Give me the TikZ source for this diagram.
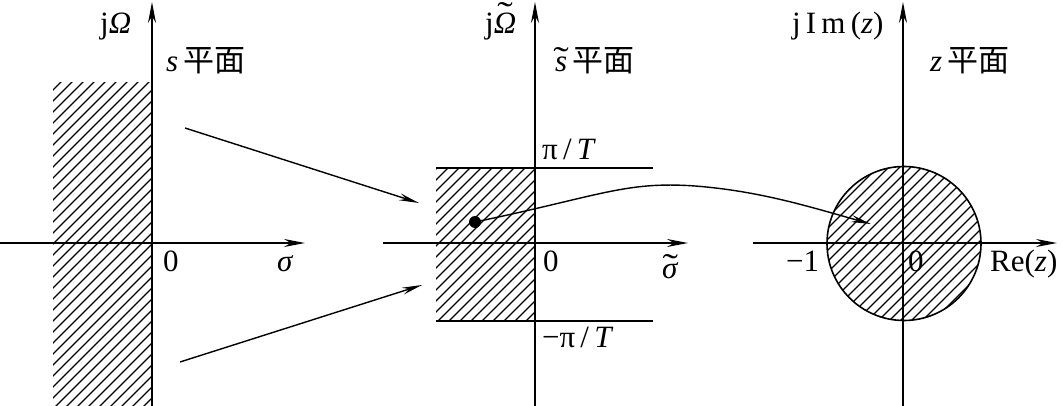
\documentclass[tikz,border=0pt]{standalone}
\usepackage{fontspec}
\setmainfont{Liberation Serif}
\newfontfamily\cjk{Noto Sans CJK SC}
\usetikzlibrary{arrows.meta}
\newcommand{\tld}[2]{\ooalign{#2\cr\hidewidth\raisebox{#1}{\scalebox{1.5}[1.1]{\char"02DC}}\hidewidth\cr}}
\begin{document}
\begin{tikzpicture}[x=1pt,y=-1pt,
  font=\fontsize{31}{34}\selectfont,
  axis/.style={line width=1.7pt,-{Stealth[length=21pt,width=8pt]}},
  bound/.style={line width=1.7pt},
  hatch/.style={line width=1.1pt},
  map/.style={line width=1.4pt,-{Stealth[length=20pt,width=7pt]}},
  lbl/.style={inner sep=0pt,anchor=base west}]
\useasboundingbox (0,0) rectangle (1063,406);

% ---------- hatching (one family of 45-degree lines, clipped per region) ----------
\begin{scope}
  \clip (53,83) rectangle (152,406);
  \foreach \c in {0,11,...,1450} \draw[hatch] (0,\c) -- ++(1100,-1100);
\end{scope}
\begin{scope}
  \clip (436,168) rectangle (535,321);
  \foreach \c in {0,11,...,1450} \draw[hatch] (0,\c) -- ++(1100,-1100);
\end{scope}
\begin{scope}
  \clip (904,243.5) circle (77);
  \foreach \c in {0,11,...,1450} \draw[hatch] (0,\c) -- ++(1100,-1100);
\end{scope}

% ---------- panel 1: s plane ----------
\coordinate (p1l) at (0,243);   \coordinate (p1r) at (305,243);
\coordinate (p1b) at (152,406); \coordinate (p1t) at (152,2);
\draw[axis] (p1l) -- (p1r);
\draw[axis] (p1b) -- (p1t);
\node[lbl] (jO1) at (100,34) {j\textit{Ω}};
\node[lbl] (s1) at (166,72) {\textit{s}\,{\cjk 平面}};
\node[lbl] (o1) at (163,272) {0};
\node[lbl] (sg1) at (277,271) {\textit{σ}};

% ---------- panel 2: s~ plane ----------
\coordinate (p2l) at (383,243); \coordinate (p2r) at (688,243);
\coordinate (p2b) at (535,406); \coordinate (p2t) at (535,2);
\draw[axis] (p2l) -- (p2r);
\draw[axis] (p2b) -- (p2t);
\coordinate (tl) at (436,168); \coordinate (tr) at (653,168);
\coordinate (bl) at (436,321); \coordinate (br) at (653,321);
\draw[bound] (tl) -- (tr);
\draw[bound] (bl) -- (br);
\node[lbl] (jO2) at (485,34) {j\tld{0.28em}{\textit{Ω}}};
\node[lbl] (s2) at (555,72) {\tld{0.05em}{\textit{s}}\,{\cjk 平面}};
\node[lbl] (pT) at (542,160) {π\,/\,\textit{T}};
\node[lbl] (mpT) at (542,347) {−π\,/\,\textit{T}};
\node[lbl] (o2) at (543,272) {0};
\node[lbl] (sg2) at (662,279) {\tld{0.05em}{\textit{σ}}};

% ---------- panel 3: z plane ----------
\node[draw,line width=1.6pt,circle,minimum size=154pt,inner sep=0pt] (uc) at (904,243.5) {};
\coordinate (p3l) at (753,243); \coordinate (p3r) at (1057,243);
\coordinate (p3b) at (903,406); \coordinate (p3t) at (903,2);
\draw[axis] (p3l) -- (p3r);
\draw[axis] (p3b) -- (p3t);
\node[lbl] (jIm) at (792,34) {j\,I\,m\,(\textit{z})};
\node[lbl] (z3) at (930,72) {\textit{z}\,{\cjk 平面}};
\node[lbl] (m1) at (786,271) {−1};
\node[lbl] (o3) at (908,271) {0};
\node[lbl] (re) at (990,271) {Re(\textit{z})};

% ---------- mapping arrows ----------
\coordinate (a1s) at (185,128); \coordinate (a1e) at (419,203);
\coordinate (a2s) at (180,362); \coordinate (a2e) at (422,285);
\draw[map] (a1s) -- (a1e);
\draw[map] (a2s) -- (a2e);
\node[fill,circle,minimum size=12pt,inner sep=0pt] (dot) at (475,222) {};
\coordinate (pk) at (695,186);
\coordinate (tip) at (871,224);
\draw[map] (dot.center) .. controls (600,196) and (625,181) .. (pk)
  .. controls (760,191) and (810,207) .. (tip);
\end{tikzpicture}
\end{document}
